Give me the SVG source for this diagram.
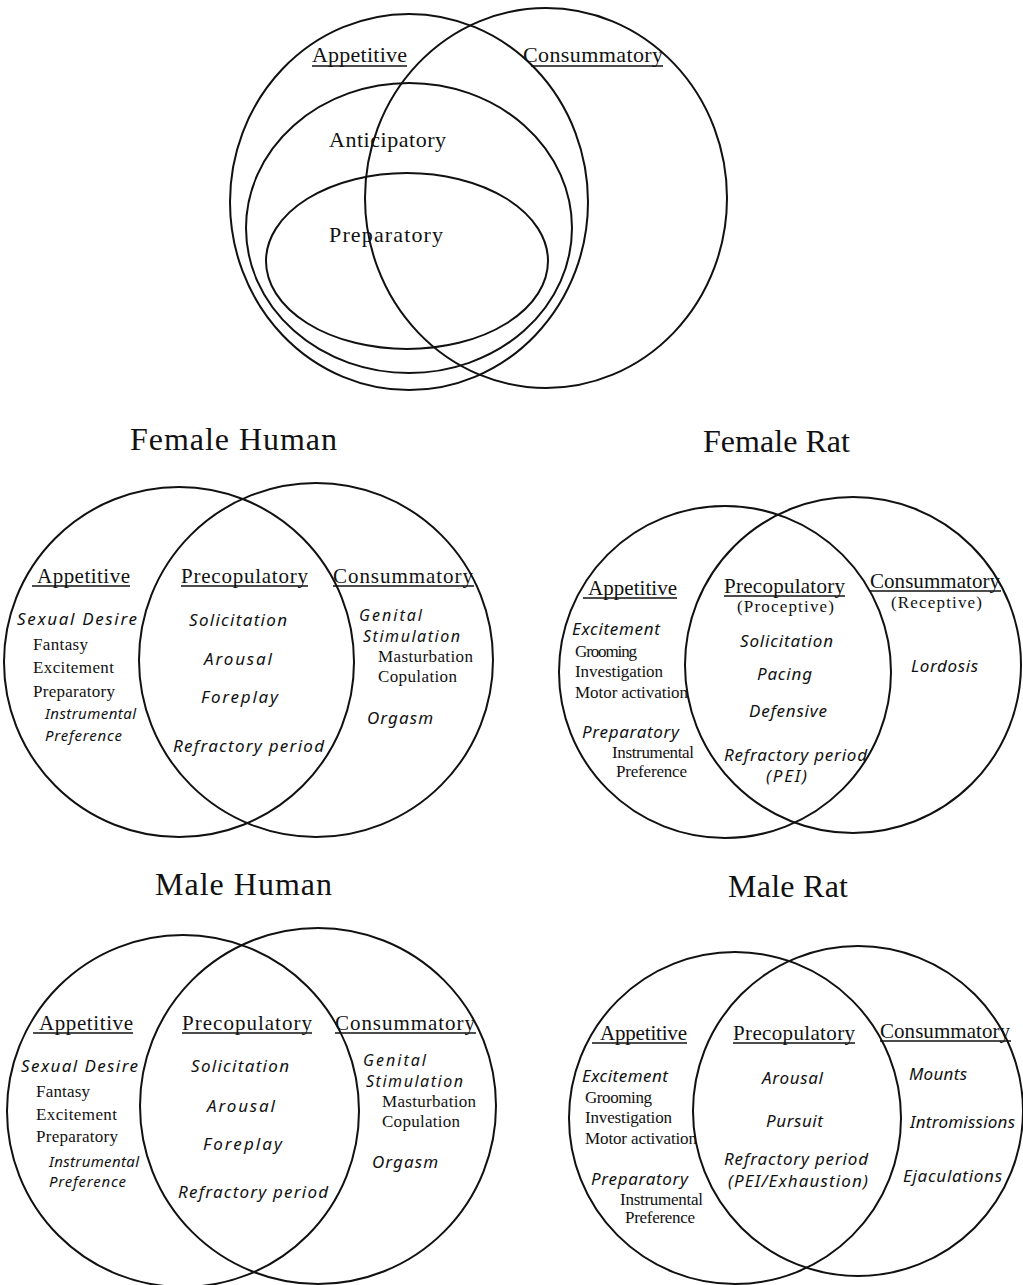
<svg xmlns="http://www.w3.org/2000/svg" width="1023" height="1285" viewBox="0 0 1023 1285">
<style>
.c{fill:none;stroke:#111;stroke-width:2}
.u{stroke:#111;stroke-width:1.4}
text{fill:#111}
.t{font-family:"Liberation Serif",serif;font-size:32px}
.h{font-family:"Liberation Serif",serif;font-size:21px}
.big{font-family:"Liberation Serif",serif;font-size:22px}
.p{font-family:"Liberation Serif",serif;font-size:17px}
.i{font-family:"Noto Sans","DejaVu Sans",sans-serif;font-style:italic;font-size:17px}
.s{font-size:15px}
.g{font-size:16px}
</style>
<rect width="1023" height="1285" fill="#fff"/>

<g id="top-venn">
<ellipse class="c" cx="409" cy="202" rx="179" ry="188"/>
<ellipse class="c" cx="546" cy="198" rx="181" ry="190"/>
<ellipse class="c" cx="409" cy="228" rx="163" ry="145"/>
<ellipse class="c" cx="407" cy="261" rx="141" ry="88"/>
<text class="big" x="312" y="62" textLength="95" lengthAdjust="spacing">Appetitive</text>
<line class="u" x1="312" y1="66" x2="407" y2="66"/>
<text class="big" x="523" y="62" textLength="140" lengthAdjust="spacing">Consummatory</text>
<line class="u" x1="531" y1="66" x2="663" y2="66"/>
<text class="big" x="329" y="147" textLength="117" lengthAdjust="spacing">Anticipatory</text>
<text class="big" x="329" y="242" textLength="114" lengthAdjust="spacing">Preparatory</text>
</g>

<g id="female-human">
<text class="t" x="130" y="450" textLength="207" lengthAdjust="spacing">Female Human</text>
<circle class="c" cx="179" cy="662" r="175"/>
<circle class="c" cx="316" cy="660" r="177"/>
<text class="h" x="37" y="583" textLength="93" lengthAdjust="spacing">Appetitive</text>
<line class="u" x1="32" y1="586" x2="130" y2="586"/>
<text class="h" x="181" y="583" textLength="127" lengthAdjust="spacing">Precopulatory</text>
<line class="u" x1="181" y1="586" x2="308" y2="586"/>
<text class="h" x="333" y="583" textLength="140" lengthAdjust="spacing">Consummatory</text>
<line class="u" x1="333" y1="586" x2="474" y2="586"/>
<text class="i" x="17" y="625" textLength="120" lengthAdjust="spacing">Sexual Desire</text>
<text class="p" x="33" y="650" textLength="55" lengthAdjust="spacing">Fantasy</text>
<text class="p" x="33" y="673" textLength="81" lengthAdjust="spacing">Excitement</text>
<text class="p" x="33" y="697" textLength="82" lengthAdjust="spacing">Preparatory</text>
<text class="i s" x="45" y="719" textLength="91" lengthAdjust="spacing">Instrumental</text>
<text class="i s" x="45" y="741" textLength="77" lengthAdjust="spacing">Preference</text>
<text class="i" x="189" y="626" textLength="98" lengthAdjust="spacing">Solicitation</text>
<text class="i" x="204" y="665" textLength="68" lengthAdjust="spacing">Arousal</text>
<text class="i" x="201" y="703" textLength="77" lengthAdjust="spacing">Foreplay</text>
<text class="i" x="173" y="752" textLength="151" lengthAdjust="spacing">Refractory period</text>
<text class="i g" x="359" y="621" textLength="63" lengthAdjust="spacing">Genital</text>
<text class="i g" x="363" y="642" textLength="97" lengthAdjust="spacing">Stimulation</text>
<text class="p" x="378" y="662" textLength="95" lengthAdjust="spacing">Masturbation</text>
<text class="p" x="378" y="682" textLength="79" lengthAdjust="spacing">Copulation</text>
<text class="i" x="367" y="724" textLength="66" lengthAdjust="spacing">Orgasm</text>
</g>

<g id="female-rat">
<text class="t" x="703" y="452" textLength="147" lengthAdjust="spacing">Female Rat</text>
<circle class="c" cx="725" cy="672" r="166"/>
<circle class="c" cx="853" cy="665" r="168"/>
<text class="h" x="588" y="595" textLength="89" lengthAdjust="spacing">Appetitive</text>
<line class="u" x1="583" y1="598" x2="677" y2="598"/>
<text class="h" x="724" y="593" textLength="121" lengthAdjust="spacing">Precopulatory</text>
<line class="u" x1="724" y1="596" x2="845" y2="596"/>
<text class="p" x="737" y="612" textLength="97" lengthAdjust="spacing" font-size="18">(Proceptive)</text>
<text class="h" x="870" y="588" textLength="130" lengthAdjust="spacing">Consummatory</text>
<line class="u" x1="870" y1="591" x2="1001" y2="591"/>
<text class="p" x="891" y="608" textLength="91" lengthAdjust="spacing" font-size="18">(Receptive)</text>
<text class="i" x="572" y="635" textLength="88" lengthAdjust="spacing" font-family="Liberation Serif" font-size="18">Excitement</text>
<text class="p" x="575" y="657" textLength="62" lengthAdjust="spacing">Grooming</text>
<text class="p" x="575" y="677" textLength="88" lengthAdjust="spacing">Investigation</text>
<text class="p" x="575" y="698" textLength="113" lengthAdjust="spacing">Motor activation</text>
<text class="i" x="582" y="738" textLength="97" lengthAdjust="spacing">Preparatory</text>
<text class="p" x="612" y="758" textLength="82" lengthAdjust="spacing" font-size="14">Instrumental</text>
<text class="p" x="616" y="777" textLength="71" lengthAdjust="spacing" font-size="14">Preference</text>
<text class="i" x="740" y="647" textLength="93" lengthAdjust="spacing">Solicitation</text>
<text class="i" x="757" y="680" textLength="55" lengthAdjust="spacing">Pacing</text>
<text class="i" x="749" y="717" textLength="78" lengthAdjust="spacing">Defensive</text>
<text class="i" x="724" y="761" textLength="143" lengthAdjust="spacing">Refractory period</text>
<text class="i" x="766" y="782" textLength="41" lengthAdjust="spacing">(PEI)</text>
<text class="i" x="911" y="672" textLength="67" lengthAdjust="spacing">Lordosis</text>
</g>

<g id="male-human">
<text class="t" x="155" y="895" textLength="177" lengthAdjust="spacing">Male Human</text>
<circle class="c" cx="183" cy="1111" r="176"/>
<circle class="c" cx="318" cy="1106" r="178"/>
<text class="h" x="39" y="1030" textLength="94" lengthAdjust="spacing">Appetitive</text>
<line class="u" x1="33" y1="1033" x2="133" y2="1033"/>
<text class="h" x="182" y="1030" textLength="130" lengthAdjust="spacing">Precopulatory</text>
<line class="u" x1="182" y1="1033" x2="312" y2="1033"/>
<text class="h" x="335" y="1030" textLength="140" lengthAdjust="spacing">Consummatory</text>
<line class="u" x1="335" y1="1033" x2="476" y2="1033"/>
<text class="i" x="21" y="1072" textLength="117" lengthAdjust="spacing">Sexual Desire</text>
<text class="p" x="36" y="1097" textLength="54" lengthAdjust="spacing">Fantasy</text>
<text class="p" x="36" y="1120" textLength="81" lengthAdjust="spacing">Excitement</text>
<text class="p" x="36" y="1142" textLength="82" lengthAdjust="spacing">Preparatory</text>
<text class="i s" x="49" y="1167" textLength="90" lengthAdjust="spacing">Instrumental</text>
<text class="i s" x="49" y="1187" textLength="77" lengthAdjust="spacing">Preference</text>
<text class="i" x="191" y="1072" textLength="98" lengthAdjust="spacing">Solicitation</text>
<text class="i" x="207" y="1112" textLength="68" lengthAdjust="spacing">Arousal</text>
<text class="i" x="203" y="1150" textLength="79" lengthAdjust="spacing">Foreplay</text>
<text class="i" x="178" y="1198" textLength="150" lengthAdjust="spacing">Refractory period</text>
<text class="i g" x="363" y="1066" textLength="63" lengthAdjust="spacing">Genital</text>
<text class="i g" x="366" y="1087" textLength="97" lengthAdjust="spacing">Stimulation</text>
<text class="p" x="382" y="1107" textLength="94" lengthAdjust="spacing">Masturbation</text>
<text class="p" x="382" y="1127" textLength="78" lengthAdjust="spacing">Copulation</text>
<text class="i" x="372" y="1168" textLength="66" lengthAdjust="spacing">Orgasm</text>
</g>

<g id="male-rat">
<text class="t" x="728" y="897" textLength="120" lengthAdjust="spacing">Male Rat</text>
<circle class="c" cx="735" cy="1118" r="166"/>
<circle class="c" cx="858" cy="1111" r="165"/>
<text class="h" x="600" y="1040" textLength="87" lengthAdjust="spacing">Appetitive</text>
<line class="u" x1="592" y1="1043" x2="687" y2="1043"/>
<text class="h" x="733" y="1040" textLength="122" lengthAdjust="spacing">Precopulatory</text>
<line class="u" x1="733" y1="1043" x2="855" y2="1043"/>
<text class="h" x="880" y="1038" textLength="130" lengthAdjust="spacing">Consummatory</text>
<line class="u" x1="880" y1="1041" x2="1011" y2="1041"/>
<text class="i" x="582" y="1082" textLength="86" lengthAdjust="spacing" font-family="Liberation Serif" font-size="18">Excitement</text>
<text class="p" x="585" y="1103" textLength="67" lengthAdjust="spacing">Grooming</text>
<text class="p" x="585" y="1123" textLength="87" lengthAdjust="spacing">Investigation</text>
<text class="p" x="585" y="1144" textLength="112" lengthAdjust="spacing">Motor activation</text>
<text class="i" x="591" y="1185" textLength="97" lengthAdjust="spacing">Preparatory</text>
<text class="p" x="620" y="1205" textLength="83" lengthAdjust="spacing" font-size="14">Instrumental</text>
<text class="p" x="625" y="1223" textLength="70" lengthAdjust="spacing" font-size="14">Preference</text>
<text class="i" x="762" y="1084" textLength="61" lengthAdjust="spacing">Arousal</text>
<text class="i" x="766" y="1127" textLength="57" lengthAdjust="spacing">Pursuit</text>
<text class="i" x="724" y="1165" textLength="144" lengthAdjust="spacing">Refractory period</text>
<text class="i" x="728" y="1187" textLength="140" lengthAdjust="spacing">(PEI/Exhaustion)</text>
<text class="i" x="909" y="1080" textLength="58" lengthAdjust="spacing">Mounts</text>
<text class="i" x="910" y="1128" textLength="105" lengthAdjust="spacing">Intromissions</text>
<text class="i" x="903" y="1182" textLength="99" lengthAdjust="spacing">Ejaculations</text>
</g>

<g id="connectors"></g>
</svg>
